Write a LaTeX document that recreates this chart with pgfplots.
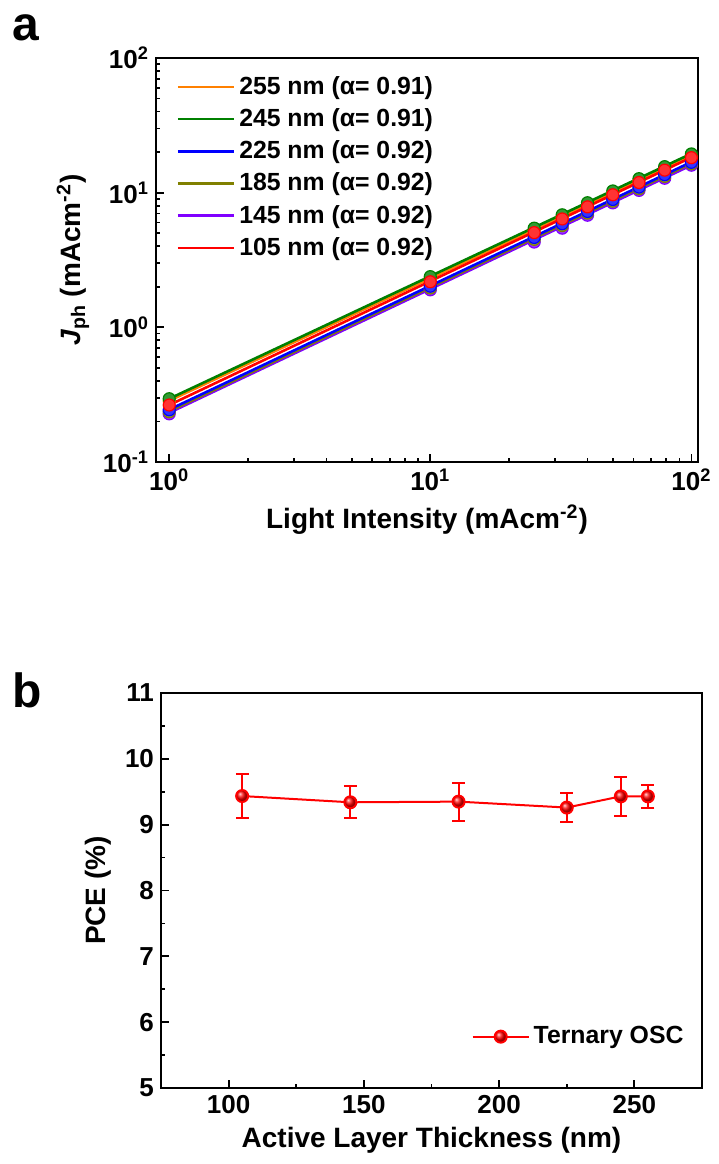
\documentclass[border=0pt]{standalone}
\usepackage{fontspec}
\setmainfont{Liberation Sans}
\usepackage{pgfplots}
\pgfplotsset{compat=1.18}

\definecolor{cOr}{HTML}{FF8000}
\definecolor{cGr}{HTML}{008000}
\definecolor{cBl}{HTML}{0000FF}
\definecolor{cOl}{HTML}{808000}
\definecolor{cVi}{HTML}{8000FF}
\definecolor{cRd}{HTML}{FF0000}

\pgfplotsset{
  origin/.style={
    scale only axis,
    axis line style={line width=1pt},
    tick align=inside, tick pos=left,
    major tick length=4pt, minor tick length=2pt,
    every tick/.style={line width=0.9pt, black},
    /pgf/number format/assume math mode=true,
    tick label style={font=\bfseries\fontsize{13}{13}\selectfont},
    label style={font=\bfseries\fontsize{14}{14}\selectfont},
  },
  pts/.style={only marks, mark=*, mark size=3pt,
    mark options={fill=#1!80!white, draw=#1, line width=0.6pt}, forget plot},
  fit/.style={#1, line width=1.3pt, forget plot},
}

\begin{document}
\begin{tikzpicture}
\path (0,0) rectangle (355pt,-582pt);
\node[anchor=north west, inner sep=0pt, font=\bfseries\fontsize{24}{24}\selectfont] at (6pt,-7pt) {a};
\node[anchor=north west, inner sep=0pt, font=\bfseries\fontsize{24}{24}\selectfont] at (6pt,-336pt) {b};

% panel a
\begin{axis}[origin,
  at={(78pt,-29pt)}, anchor=north west,
  width=271pt, height=202pt,
  xmode=log, ymode=log,
  xmin=0.89, xmax=106, ymin=0.1, ymax=100,
  xtick={1,10,100}, xticklabels={10\textsuperscript{0},10\textsuperscript{1},10\textsuperscript{2}},
  ytick={0.1,1,10,100}, yticklabels={10\textsuperscript{-1},10\textsuperscript{0},10\textsuperscript{1},10\textsuperscript{2}},
  minor xtick={2,3,4,5,6,7,8,9,20,30,40,50,60,70,80,90},
  minor ytick={0.2,0.3,0.4,0.5,0.6,0.7,0.8,0.9,2,3,4,5,6,7,8,9,20,30,40,50,60,70,80,90},
  xlabel={Light Intensity (mAcm\textsuperscript{-2})},
  ylabel={{\itshape J}\textsubscript{ph} (mAcm\textsuperscript{-2})},
  legend style={at={(0.03,0.975)}, anchor=north west, draw=none, fill=none,
    font=\bfseries\fontsize{12.4}{12.4}\selectfont, row sep=1.6pt, inner sep=2pt},
  legend cell align=left,
  legend image code/.code={\draw[#1, line width=1.3pt] (0pt,0pt) -- (28pt,0pt);},
]
\addlegendimage{cOr}\addlegendentry{255 nm (α= 0.91)}
\addlegendimage{cGr}\addlegendentry{245 nm (α= 0.91)}
\addlegendimage{cBl}\addlegendentry{225 nm (α= 0.92)}
\addlegendimage{cOl}\addlegendentry{185 nm (α= 0.92)}
\addlegendimage{cVi}\addlegendentry{145 nm (α= 0.92)}
\addlegendimage{cRd}\addlegendentry{105 nm (α= 0.92)}

% 145 nm
\addplot[pts=cVi] coordinates {(1,0.228)(10,1.90)(25,4.30)(32,5.45)(40,6.80)(50,8.40)(63,10.4)(79,12.8)(100,16.0)};
% 185 nm
\addplot[pts=cOl] coordinates {(1,0.236)(10,1.96)(25,4.50)(32,5.70)(40,7.05)(50,8.65)(63,10.7)(79,13.2)(100,16.4)};
% 225 nm
\addplot[pts=cBl] coordinates {(1,0.244)(10,2.02)(25,4.65)(32,5.88)(40,7.25)(50,8.90)(63,11.0)(79,13.6)(100,16.8)};
% 255 nm
\addplot[pts=cOr] coordinates {(1,0.284)(10,2.30)(25,5.25)(32,6.60)(40,8.12)(50,9.95)(63,12.3)(79,15.1)(100,18.7)};
% 245 nm
\addplot[pts=cGr] coordinates {(1,0.295)(10,2.38)(25,5.45)(32,6.85)(40,8.42)(50,10.3)(63,12.7)(79,15.6)(100,19.4)};
% 105 nm
\addplot[pts=cRd] coordinates {(1,0.265)(10,2.18)(25,5.05)(32,6.38)(40,7.85)(50,9.65)(63,11.9)(79,14.7)(100,18.2)};

\addplot[fit=cVi] coordinates {(1,0.232)(100,16.0)};
\addplot[fit=cOl] coordinates {(1,0.238)(100,16.5)};
\addplot[fit=cBl] coordinates {(1,0.245)(100,16.9)};
\addplot[fit=cOr] coordinates {(1,0.285)(100,18.8)};
\addplot[fit=cGr] coordinates {(1,0.295)(100,19.5)};
\addplot[fit=cRd] coordinates {(1,0.265)(100,18.3)};
\end{axis}

% panel b
\begin{axis}[origin,
  at={(80.5pt,-346.5pt)}, anchor=north west,
  width=270.5pt, height=197.5pt,
  xmin=75, xmax=275, ymin=5, ymax=11,
  xtick={100,150,200,250}, minor xtick={125,175,225},
  ytick={5,6,7,8,9,10,11}, minor ytick={5.5,6.5,7.5,8.5,9.5,10.5},
  xlabel={Active Layer Thickness (nm)},
  ylabel={PCE (\%)},
  legend style={at={(0.985,0.13)}, anchor=east, draw=none, fill=none,
    font=\bfseries\fontsize{12.4}{12.4}\selectfont},
  legend image code/.code={\draw[#1, line width=1pt] (0pt,0pt) -- (28pt,0pt);
    \draw[#1, mark=ball, mark size=3pt, mark options={ball color=cRd}] plot coordinates {(14pt,0pt)};},
]
\addplot[cRd, line width=1pt, mark=ball, mark size=3pt, mark options={ball color=cRd},
  error bars/.cd, y dir=both, y explicit,
  error bar style={line width=1pt},
  error mark options={rotate=90, mark size=3.2pt, line width=1pt, cRd}]
  coordinates {
  (105,9.435) +- (0,0.34)
  (145,9.34) +- (0,0.24)
  (185,9.35) +- (0,0.29)
  (225,9.26) +- (0,0.225)
  (245,9.43) +- (0,0.30)
  (255,9.43) +- (0,0.17)
  };
\addlegendentry{Ternary OSC}
\end{axis}
\end{tikzpicture}
\end{document}
